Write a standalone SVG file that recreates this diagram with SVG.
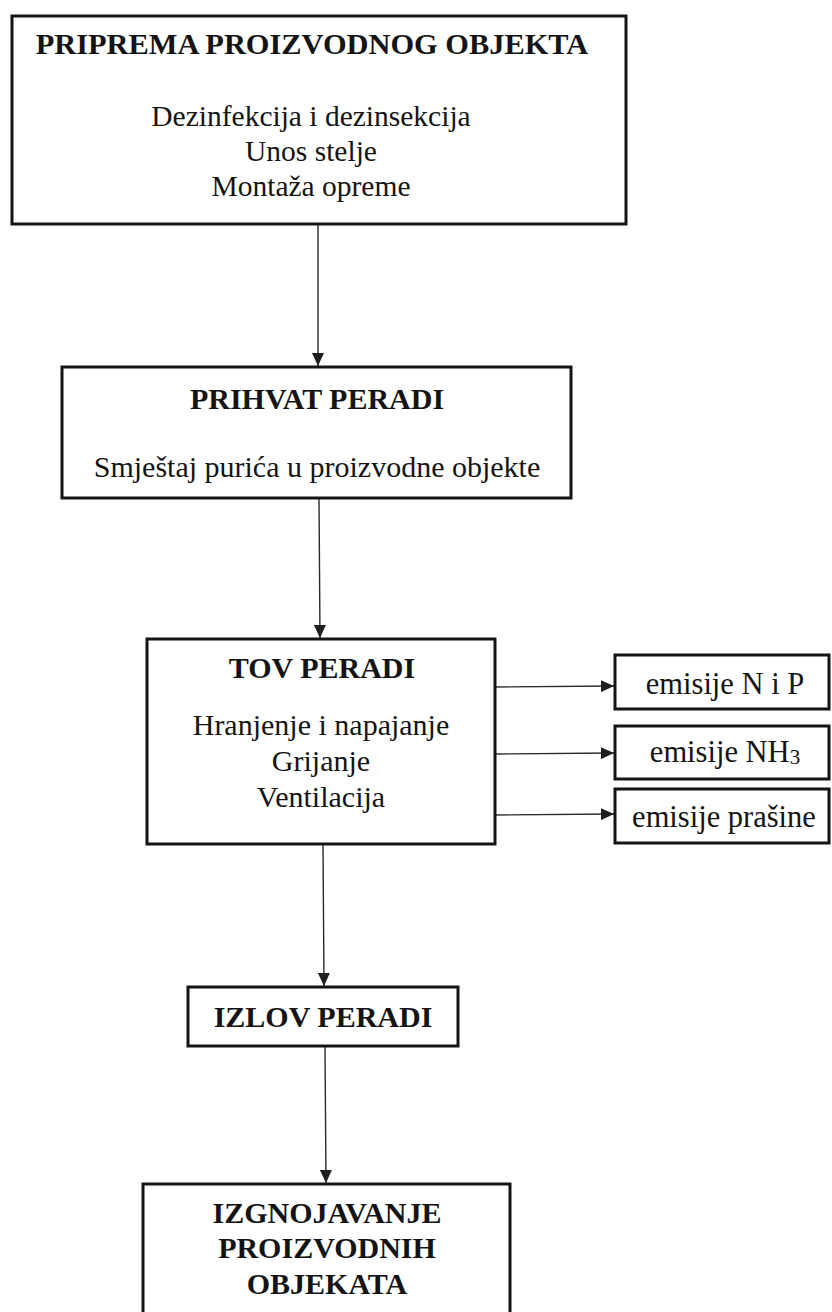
<svg xmlns="http://www.w3.org/2000/svg" width="832" height="1312" viewBox="0 0 832 1312">
<style>
.box{fill:#fff;stroke:#141414;stroke-width:3}
.t{font-family:"Liberation Serif","Times New Roman",serif;font-size:30px;font-weight:bold;fill:#141414;text-anchor:middle}
.b{font-family:"Liberation Serif","Times New Roman",serif;font-size:30px;fill:#141414;text-anchor:middle}
.c{stroke:#2a2a2a;stroke-width:1.4;fill:none;marker-end:url(#ah)}
</style>
<defs>
<marker id="ah" markerUnits="userSpaceOnUse" markerWidth="13" markerHeight="12" refX="13" refY="6" orient="auto">
<path d="M0,0 L13,6 L0,12 z" fill="#1e1e1e"/>
</marker>
</defs>
<rect width="832" height="1312" fill="#fff"/>
<g id="connectors">
<line class="c" x1="318" y1="224" x2="318" y2="366"/>
<line class="c" x1="319" y1="498" x2="320" y2="638"/>
<line class="c" x1="323" y1="845" x2="324" y2="986"/>
<line class="c" x1="325" y1="1047" x2="326" y2="1183"/>
<line class="c" x1="496" y1="687" x2="614" y2="686"/>
<line class="c" x1="496" y1="754" x2="614" y2="753"/>
<line class="c" x1="496" y1="815" x2="614" y2="814"/>
</g>
<g id="priprema">
<rect class="box" x="12" y="16" width="614" height="208"/>
<text class="t" x="312" y="54" style="font-size:30.4px">PRIPREMA PROIZVODNOG OBJEKTA</text>
<text class="b" x="311" y="126" style="font-size:29.5px">Dezinfekcija i dezinsekcija</text>
<text class="b" x="311" y="161" style="font-size:29.5px">Unos stelje</text>
<text class="b" x="311" y="196" style="font-size:29.5px">Montaža opreme</text>
</g>
<g id="prihvat">
<rect class="box" x="62" y="367" width="509" height="131"/>
<text class="t" x="317" y="409">PRIHVAT PERADI</text>
<text class="b" x="317" y="477">Smještaj purića u proizvodne objekte</text>
</g>
<g id="tov">
<rect class="box" x="147" y="639" width="348" height="205"/>
<text class="t" x="322" y="678">TOV PERADI</text>
<text class="b" x="321" y="735">Hranjenje i napajanje</text>
<text class="b" x="321" y="771">Grijanje</text>
<text class="b" x="321" y="807">Ventilacija</text>
</g>
<g id="emisije-np">
<rect class="box" x="615" y="655" width="214" height="54"/>
<text class="b" x="725" y="694" style="font-size:30.5px">emisije N i P</text>
</g>
<g id="emisije-nh3">
<rect class="box" x="615" y="726" width="214" height="53"/>
<text class="b" x="725" y="762" style="font-size:30.5px">emisije NH<tspan font-size="21" dy="2">3</tspan></text>
</g>
<g id="emisije-prasine">
<rect class="box" x="615" y="789" width="214" height="54"/>
<text class="b" x="724" y="827" style="font-size:30.5px">emisije prašine</text>
</g>
<g id="izlov">
<rect class="box" x="188" y="987" width="270" height="59"/>
<text class="t" x="323" y="1027">IZLOV PERADI</text>
</g>
<g id="izgnojavanje">
<rect class="box" x="143" y="1184" width="367" height="170"/>
<text class="t" x="327" y="1223">IZGNOJAVANJE</text>
<text class="t" x="327" y="1258">PROIZVODNIH</text>
<text class="t" x="327" y="1294">OBJEKATA</text>
</g>
</svg>
